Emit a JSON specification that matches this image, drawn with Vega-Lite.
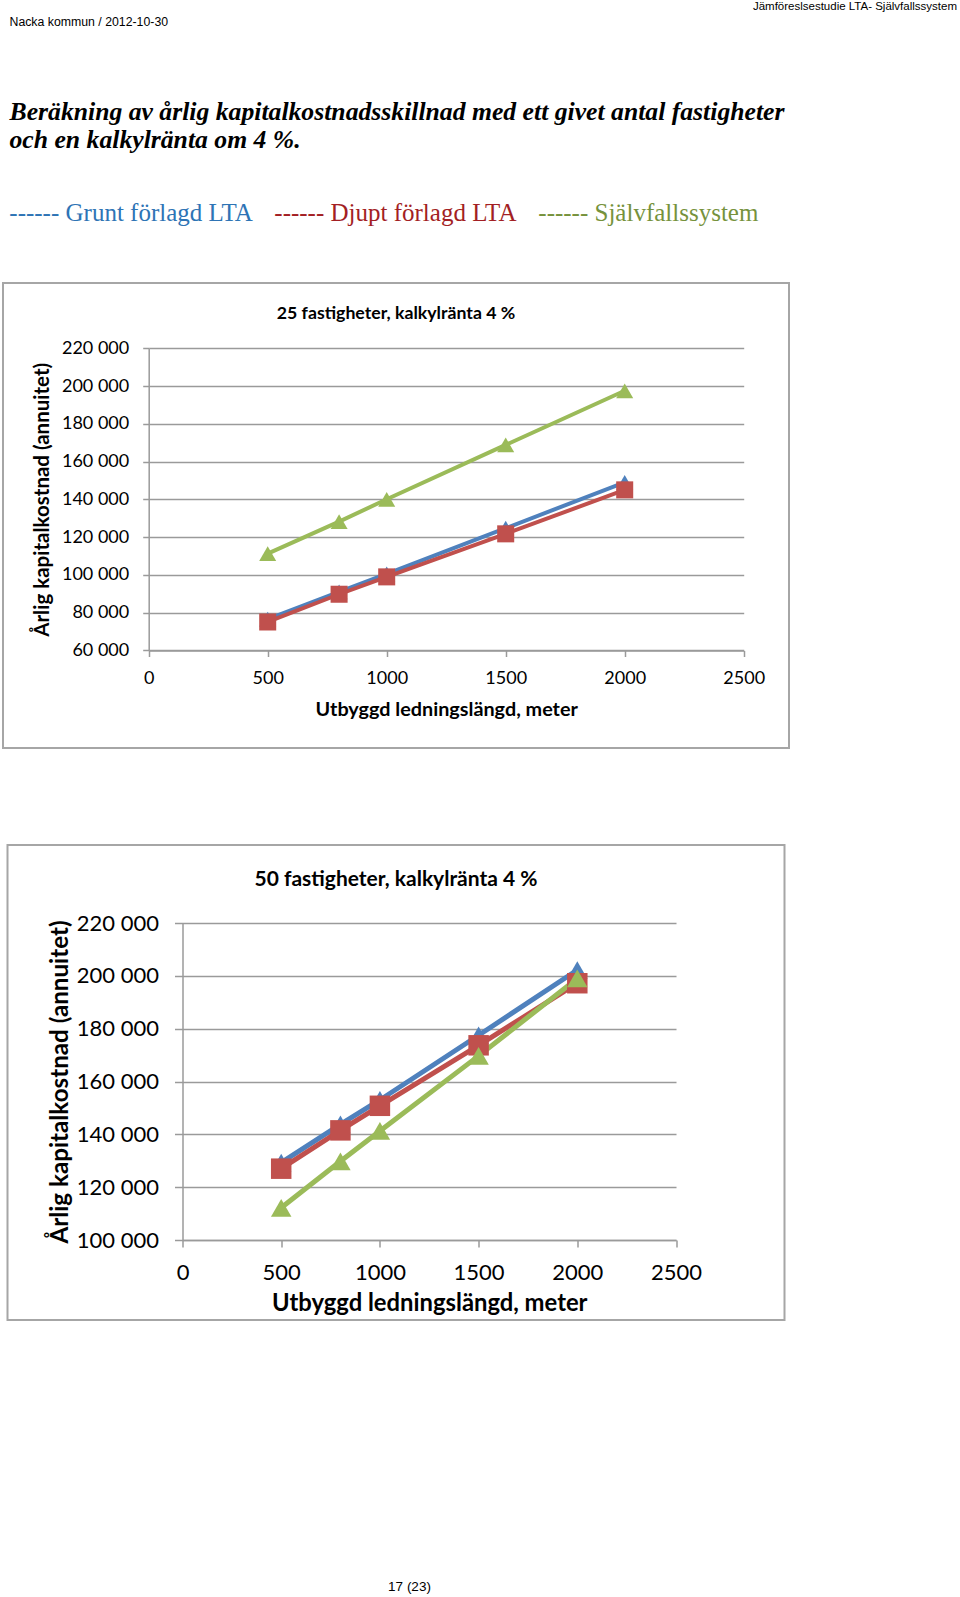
{
  "$schema": "https://vega.github.io/schema/vega-lite/v6.json",
  "background": "white",
  "padding": {"left": 2, "top": 1, "right": 0, "bottom": 0},
  "title": {"text": "Jämföreslsestudie LTA- Självfallssystem", "anchor": "start", "align": "right", "dx": 955, "fontSize": 11.5, "font": "Liberation Sans", "fontWeight": "normal", "color": "#000", "offset": 3},
  "spacing": 95,
  "center": true,
  "config": {"view": {"stroke": null}, "font": "Lato"},
  "vconcat": [
    {
      "width": 786, "height": 1,
      "data": {"values": []},
      "mark": {"type": "point", "opacity": 0},
      "title": {"text": "Nacka kommun / 2012-10-30", "subtitle": ["Beräkning av årlig kapitalkostnadsskillnad med ett givet antal fastigheter", "och en kalkylränta om 4 %."], "anchor": "start", "dx": 6, "font": "Liberation Sans", "fontSize": 12.3, "fontWeight": "normal", "color": "#000", "subtitleFont": "Liberation Serif", "subtitleFontSize": 25.7, "subtitleFontStyle": "italic", "subtitleFontWeight": "bold", "subtitleColor": "#000", "subtitlePadding": 72, "subtitleLineHeight": 28.5, "offset": 33}
    },
    {
      "width": 786, "height": 465,
      "view": {"stroke": "#a6a6a6", "strokeWidth": 2},
      "title": {"text": "25 fastigheter, kalkylränta 4 %", "font": "Lato", "fontSize": 17.7, "fontWeight": "bold", "color": "#000", "anchor": "middle", "offset": -40},
      "data": {"values": [
        {"series": "Grunt förlagd LTA", "length": 500, "cost": 76500},
        {"series": "Grunt förlagd LTA", "length": 800, "cost": 91000},
        {"series": "Grunt förlagd LTA", "length": 1000, "cost": 100500},
        {"series": "Grunt förlagd LTA", "length": 1500, "cost": 124700},
        {"series": "Grunt förlagd LTA", "length": 2000, "cost": 149000},
        {"series": "Djupt förlagd LTA", "length": 500, "cost": 75000},
        {"series": "Djupt förlagd LTA", "length": 800, "cost": 89700},
        {"series": "Djupt förlagd LTA", "length": 1000, "cost": 98900},
        {"series": "Djupt förlagd LTA", "length": 1500, "cost": 121700},
        {"series": "Djupt förlagd LTA", "length": 2000, "cost": 145000},
        {"series": "Självfallssystem", "length": 500, "cost": 111200},
        {"series": "Självfallssystem", "length": 800, "cost": 128200},
        {"series": "Självfallssystem", "length": 1000, "cost": 140000},
        {"series": "Självfallssystem", "length": 1500, "cost": 168800},
        {"series": "Självfallssystem", "length": 2000, "cost": 197500}
      ]},
      "encoding": {
        "x": {"field": "length", "type": "quantitative",
          "scale": {"domain": [0, 2500], "range": [145.7, 740.7], "nice": false, "zero": false},
          "axis": {"orient": "bottom", "offset": -97.5, "values": [0, 500, 1000, 1500, 2000, 2500], "format": "d", "grid": false, "domainColor": "#9a9a9a", "domainWidth": 1.5, "tickColor": "#9a9a9a", "tickWidth": 1.5, "tickSize": 6, "labelFont": "Lato", "labelFontSize": 18, "labelColor": "#000", "labelPadding": 13, "labelFlush": false, "labelOverlap": false, "title": "Utbyggd ledningslängd, meter", "titleFont": "Lato", "titleFontSize": 19.8, "titleFontWeight": "bold", "titleColor": "#000", "titlePadding": 12}},
        "y": {"field": "cost", "type": "quantitative",
          "scale": {"domain": [60000, 220000], "range": [367.3, 65.3], "nice": false, "zero": false},
          "axis": {"orient": "left", "offset": -145.7, "values": [60000, 80000, 100000, 120000, 140000, 160000, 180000, 200000, 220000], "labelExpr": "replace(format(datum.value, ',d'), ',', ' ')", "grid": true, "gridColor": "#9a9a9a", "gridWidth": 1.5, "domainColor": "#9a9a9a", "domainWidth": 1.5, "tickColor": "#9a9a9a", "tickWidth": 1.5, "tickSize": 6, "labelFont": "Lato", "labelFontSize": 18, "labelColor": "#000", "labelPadding": 14, "labelOverlap": false, "title": "Årlig kapitalkostnad (annuitet)", "titleFont": "Lato", "titleFontSize": 20.5, "titleFontWeight": "bold", "titleColor": "#000", "titlePadding": 9}},
        "color": {"field": "series", "type": "nominal",
          "scale": {"domain": ["Grunt förlagd LTA", "Djupt förlagd LTA", "Självfallssystem"], "range": ["#4F81BD", "#C0504D", "#9BBB59"]},
          "legend": {"orient": "none", "legendX": 0, "legendY": 14, "direction": "horizontal", "title": null, "labelFont": "Liberation Serif", "labelFontSize": 25, "labelLimit": 600, "labelExpr": "'------ ' + datum.label", "symbolSize": 0, "symbolOpacity": 0, "symbolStrokeWidth": 0, "labelOffset": -18.7, "columnPadding": 15,
            "encode": {"labels": {"update": {"fill": {"signal": "datum.value === 'Grunt förlagd LTA' ? '#2E74B5' : datum.value === 'Djupt förlagd LTA' ? '#A31F24' : '#76923C'"}}}}}}
      },
      "layer": [
        {"mark": {"type": "line", "strokeWidth": 4}},
        {"mark": {"type": "point", "filled": true, "opacity": 1, "size": 290},
          "encoding": {"shape": {"field": "series", "type": "nominal", "scale": {"domain": ["Grunt förlagd LTA", "Djupt förlagd LTA", "Självfallssystem"], "range": ["triangle-up", "square", "triangle-up"]}, "legend": null}}}
      ]
    },
    {
      "width": 777, "height": 475,
      "view": {"stroke": "#a6a6a6", "strokeWidth": 2},
      "title": {"text": "50 fastigheter, kalkylränta 4 %", "font": "Lato", "fontSize": 21, "fontWeight": "bold", "color": "#000", "anchor": "middle", "offset": -45},
      "data": {"values": [
        {"series": "Grunt förlagd LTA", "length": 500, "cost": 129300},
        {"series": "Grunt förlagd LTA", "length": 800, "cost": 143800},
        {"series": "Grunt förlagd LTA", "length": 1000, "cost": 153000},
        {"series": "Grunt förlagd LTA", "length": 1500, "cost": 177500},
        {"series": "Grunt förlagd LTA", "length": 2000, "cost": 202200},
        {"series": "Djupt förlagd LTA", "length": 500, "cost": 127000},
        {"series": "Djupt förlagd LTA", "length": 800, "cost": 141500},
        {"series": "Djupt förlagd LTA", "length": 1000, "cost": 150800},
        {"series": "Djupt förlagd LTA", "length": 1500, "cost": 173700},
        {"series": "Djupt förlagd LTA", "length": 2000, "cost": 197200},
        {"series": "Självfallssystem", "length": 500, "cost": 112200},
        {"series": "Självfallssystem", "length": 800, "cost": 129800},
        {"series": "Självfallssystem", "length": 1000, "cost": 141300},
        {"series": "Självfallssystem", "length": 1500, "cost": 169700},
        {"series": "Självfallssystem", "length": 2000, "cost": 199000}
      ]},
      "encoding": {
        "x": {"field": "length", "type": "quantitative",
          "scale": {"domain": [0, 2500], "range": [175, 668.5], "nice": false, "zero": false},
          "axis": {"orient": "bottom", "offset": -80, "values": [0, 500, 1000, 1500, 2000, 2500], "format": "d", "grid": false, "domainColor": "#9a9a9a", "domainWidth": 1.5, "tickColor": "#9a9a9a", "tickWidth": 1.5, "tickSize": 7, "labelFont": "Lato", "labelFontSize": 22, "labelColor": "#000", "labelPadding": 15, "labelFlush": false, "labelOverlap": false, "title": "Utbyggd ledningslängd, meter", "titleFont": "Lato", "titleFontSize": 23.8, "titleFontWeight": "bold", "titleColor": "#000", "titlePadding": 8}},
        "y": {"field": "cost", "type": "quantitative",
          "scale": {"domain": [100000, 220000], "range": [395, 78], "nice": false, "zero": false},
          "axis": {"orient": "left", "offset": -175, "values": [100000, 120000, 140000, 160000, 180000, 200000, 220000], "labelExpr": "replace(format(datum.value, ',d'), ',', ' ')", "grid": true, "gridColor": "#9a9a9a", "gridWidth": 1.5, "domainColor": "#9a9a9a", "domainWidth": 1.5, "tickColor": "#9a9a9a", "tickWidth": 1.5, "tickSize": 8, "labelFont": "Lato", "labelFontSize": 22, "labelColor": "#000", "labelPadding": 16, "labelOverlap": false, "title": "Årlig kapitalkostnad (annuitet)", "titleFont": "Lato", "titleFontSize": 24.2, "titleFontWeight": "bold", "titleColor": "#000", "titlePadding": 4}},
        "color": {"field": "series", "type": "nominal",
          "scale": {"domain": ["Grunt förlagd LTA", "Djupt förlagd LTA", "Självfallssystem"], "range": ["#4F81BD", "#C0504D", "#9BBB59"]},
          "legend": {"orient": "none", "legendX": 0, "legendY": 14, "direction": "horizontal", "title": null, "labelFont": "Liberation Serif", "labelFontSize": 25, "labelLimit": 600, "labelExpr": "'------ ' + datum.label", "symbolSize": 0, "symbolOpacity": 0, "symbolStrokeWidth": 0, "labelOffset": -18.7, "columnPadding": 15,
            "encode": {"labels": {"update": {"fill": {"signal": "datum.value === 'Grunt förlagd LTA' ? '#2E74B5' : datum.value === 'Djupt förlagd LTA' ? '#A31F24' : '#76923C'"}}}}}}
      },
      "layer": [
        {"mark": {"type": "line", "strokeWidth": 5}},
        {"mark": {"type": "point", "filled": true, "opacity": 1, "size": 420},
          "encoding": {"shape": {"field": "series", "type": "nominal", "scale": {"domain": ["Grunt förlagd LTA", "Djupt förlagd LTA", "Självfallssystem"], "range": ["triangle-up", "square", "triangle-up"]}, "legend": null}}}
      ]
    },
    {
      "width": 786, "height": 150,
      "data": {"values": []},
      "mark": {"type": "point", "opacity": 0},
      "title": {"text": "17 (23)", "orient": "bottom", "anchor": "middle", "dx": 13, "offset": 14, "font": "Liberation Sans", "fontSize": 13.5, "fontWeight": "normal", "color": "#000"}
    }
  ]
}
